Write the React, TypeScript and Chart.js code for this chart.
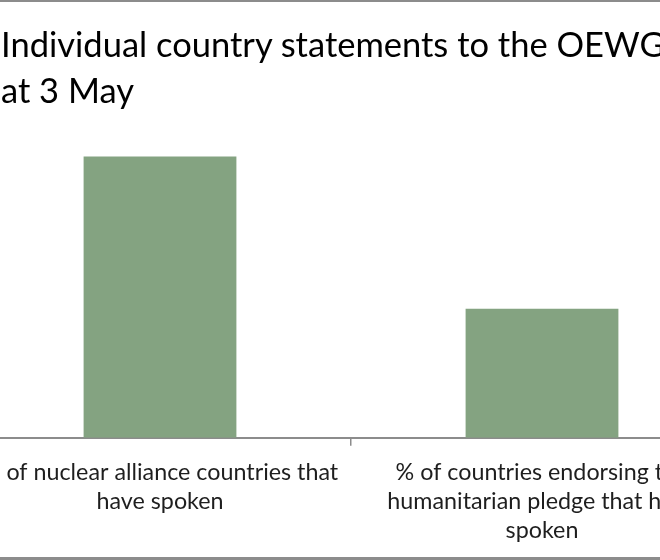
import { useEffect, useRef } from "react";
import { Chart, registerables } from "chart.js";

Chart.register(...registerables);

const categories: string[][] = [
  ["% of nuclear alliance countries that", "have spoken"],
  ["% of countries endorsing the", "humanitarian pledge that have", "spoken"],
];
const values: number[] = [65, 29.8];
const titleLines: string[] = ["Individual country statements to the OEWG as", "at 3 May"];

const BAR_COLOR = "#84a381";
const AXIS_COLOR = "#8c8c8c";
const FONT = "Lato, 'Open Sans', sans-serif";

export default function App() {
  const ref = useRef<HTMLCanvasElement | null>(null);

  useEffect(() => {
    if (!ref.current) return;
    const chart = new Chart(ref.current, {
      type: "bar",
      data: {
        labels: categories,
        datasets: [
          {
            data: values,
            backgroundColor: BAR_COLOR,
            borderWidth: 0,
            categoryPercentage: 1,
            barPercentage: 0.4,
          },
        ],
      },
      options: {
        animation: false,
        responsive: false,
        maintainAspectRatio: false,
        layout: { padding: { left: 29, right: 20, top: 5, bottom: 3 } },
        plugins: {
          legend: { display: false },
          title: { display: false },
          tooltip: { enabled: false },
        },
        scales: {
          x: {
            grid: {
              display: true,
              offset: true,
              drawOnChartArea: false,
              drawTicks: true,
              tickLength: 8,
              color: AXIS_COLOR,
              lineWidth: 1.5,
            },
            border: { display: true, color: AXIS_COLOR, width: 2 },
            ticks: {
              color: "#1e1e1e",
              font: { family: FONT, size: 23.3, lineHeight: 1.25 },
              maxRotation: 0,
              minRotation: 0,
              autoSkip: false,
              padding: 12,
            },
          },
          y: {
            display: false,
            min: 0,
            max: 100,
          },
        },
      },
    });
    return () => chart.destroy();
  }, []);

  return (
    <div
      style={{
        position: "fixed",
        left: 0,
        top: 0,
        width: 660,
        height: 560,
        overflow: "hidden",
        background: "#ffffff",
      }}
    >
      <canvas
        ref={ref}
        width={813}
        height={560}
        style={{ position: "absolute", left: -60, top: 0, width: 813, height: 560 }}
      />
      <div
        style={{
          position: "absolute",
          left: 1,
          top: 21,
          whiteSpace: "pre",
          fontFamily: FONT,
          fontSize: 34.5,
          lineHeight: "45.5px",
          color: "#000000",
        }}
      >
        {titleLines.map((t, i) => (
          <div key={i}>{t}</div>
        ))}
      </div>
      <div style={{ position: "absolute", left: 0, top: 0, width: 660, height: 2, background: "#8c8c8c" }} />
      <div style={{ position: "absolute", left: 0, top: 557, width: 660, height: 3, background: "#8c8c8c" }} />
    </div>
  );
}
